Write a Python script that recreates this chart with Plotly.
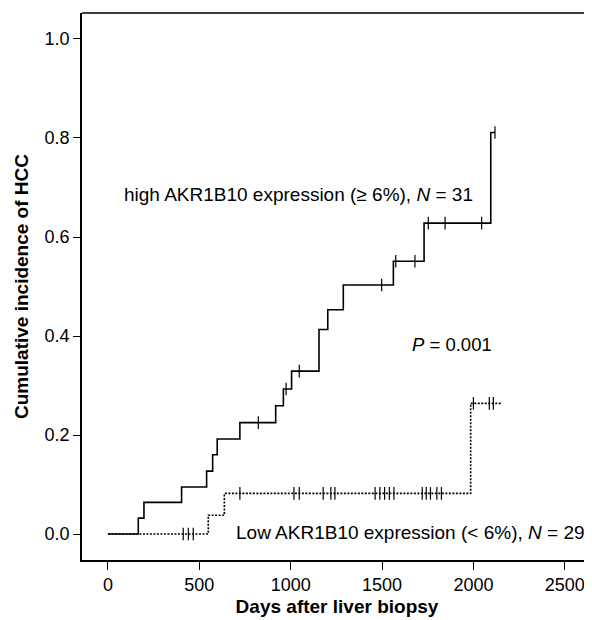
import plotly.graph_objects as go
import numpy as np

# ---- data ----
high_event_days = [0, 166, 197, 403, 540, 573, 598, 722, 918, 960, 1005, 1155, 1203, 1288, 1562, 1730, 2095]
high_cum_inc    = [0.0, 0.032, 0.064, 0.095, 0.127, 0.160, 0.192, 0.225, 0.259, 0.293, 0.329, 0.413, 0.453, 0.503, 0.551, 0.628, 0.811]
high_censor_days = [823, 975, 1047, 1498, 1575, 1680, 1753, 1845, 2045, 2118]
high_end_day = 2118

low_event_days = [0, 549, 637, 1985]
low_cum_inc    = [0.0, 0.038, 0.082, 0.264]
low_censor_days = [412, 440, 467, 722, 1018, 1047, 1178, 1220, 1242,
                   1462, 1488, 1514, 1540, 1565, 1720, 1742, 1765, 1800, 1825,
                   2000, 2087, 2109]
low_end_day = 2158

y_ticks = [0.0, 0.2, 0.4, 0.6, 0.8, 1.0]
x_ticks = [0, 500, 1000, 1500, 2000, 2500]

label_high = "high AKR1B10 expression (≥ 6%), <i>N</i> = 31"
label_low = "Low AKR1B10 expression (< 6%), <i>N</i> = 29"
label_p = "<i>P</i> = 0.001"

FONT = "Liberation Sans, Arial, sans-serif"


def step_value(days, vals, t):
    idx = np.searchsorted(np.array(days), t, side="right") - 1
    return vals[max(idx, 0)]


fig = go.Figure()

# high group (solid)
fig.add_trace(go.Scatter(
    x=high_event_days + [high_end_day],
    y=high_cum_inc + [high_cum_inc[-1]],
    mode="lines", line=dict(color="black", width=1.6, shape="hv"),
    showlegend=False, hoverinfo="skip"))
fig.add_trace(go.Scatter(
    x=high_censor_days,
    y=[step_value(high_event_days, high_cum_inc, t) for t in high_censor_days],
    mode="markers", marker=dict(symbol="line-ns", size=9, line=dict(color="black", width=1.2)),
    showlegend=False, hoverinfo="skip"))

# low group (dotted)
fig.add_trace(go.Scatter(
    x=low_event_days + [low_end_day],
    y=low_cum_inc + [low_cum_inc[-1]],
    mode="lines", line=dict(color="black", width=1.6, shape="hv", dash="2px,1.5px"),
    showlegend=False, hoverinfo="skip"))
fig.add_trace(go.Scatter(
    x=low_censor_days,
    y=[step_value(low_event_days, low_cum_inc, t) for t in low_censor_days],
    mode="markers", marker=dict(symbol="line-ns", size=9, line=dict(color="black", width=1.2)),
    showlegend=False, hoverinfo="skip"))

fig.add_annotation(x=77, y=0.685, text=label_high, showarrow=False, xanchor="left", yanchor="middle",
                   font=dict(family=FONT, size=19, color="black"))
fig.add_annotation(x=690, y=0.004, text=label_low, showarrow=False, xanchor="left", yanchor="middle",
                   font=dict(family=FONT, size=19, color="black"))
fig.add_annotation(x=1653, y=0.382, text=label_p, showarrow=False, xanchor="left", yanchor="middle",
                   font=dict(family=FONT, size=18.5, color="black"))

# top border of the frame
fig.add_shape(type="line", xref="paper", yref="paper", x0=0, x1=1, y0=1, y1=1,
              line=dict(color="black", width=1.6))

# the page body adds an 8px offset, so the figure is 8px smaller on each side
fig.update_layout(
    width=584, height=612,
    margin=dict(l=74, r=0, t=5, b=60),
    paper_bgcolor="white", plot_bgcolor="white",
    font=dict(family=FONT, color="black", size=18),
    xaxis=dict(
        range=[-142, 2649], tickvals=x_ticks, ticktext=[str(v) for v in x_ticks],
        ticks="outside", ticklen=8, tickwidth=1.3, tickcolor="black",
        showline=True, linecolor="black", linewidth=1.6,
        showgrid=False, zeroline=False,
        tickfont=dict(size=18),
        title=dict(text="<b>Days after liver biopsy</b>", font=dict(size=19), standoff=5),
    ),
    yaxis=dict(
        range=[-0.0525, 1.0525], tickvals=y_ticks, ticktext=[f"{v:.1f}" for v in y_ticks],
        ticks="outside", ticklen=7, tickwidth=1.3, tickcolor="black",
        showline=True, linecolor="black", linewidth=1.6,
        showgrid=False, zeroline=False,
        tickfont=dict(size=18),
        title=dict(text="<b>Cumulative incidence of HCC</b>", font=dict(size=19), standoff=11),
    ),
)

fig.write_html("out.html")
